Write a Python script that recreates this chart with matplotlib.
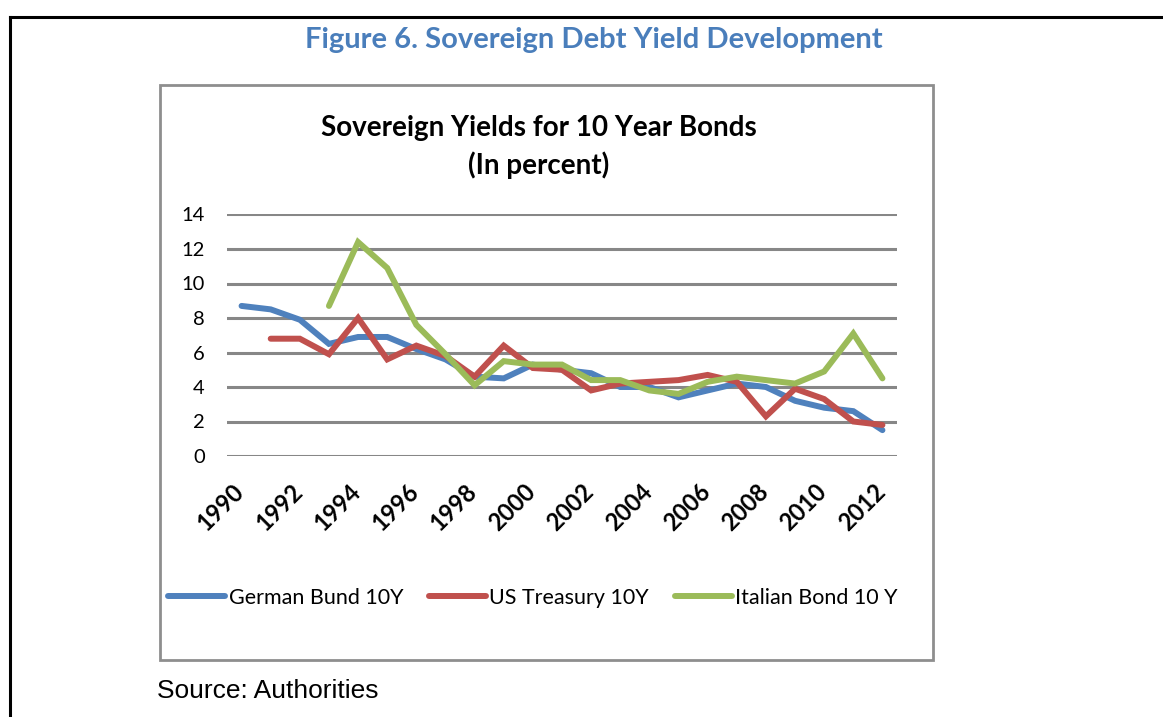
import numpy as np
import matplotlib
matplotlib.use("Agg")
import matplotlib.pyplot as plt
import matplotlib.transforms as mtransforms
from matplotlib.patches import Rectangle
from matplotlib.lines import Line2D

# ── Data ──────────────────────────────────────────────────────────────────────
years = list(range(1990, 2013))
german = [8.7, 8.5, 7.9, 6.5, 6.9, 6.9, 6.2, 5.6, 4.6, 4.5, 5.3,
          5.0, 4.8, 4.0, 4.0, 3.4, 3.8, 4.2, 4.0, 3.2, 2.8, 2.6, 1.5]
us = [np.nan, 6.8, 6.8, 5.9, 8.0, 5.6, 6.4, 5.8, 4.6, 6.4, 5.1,
      5.0, 3.8, 4.2, 4.3, 4.4, 4.7, 4.3, 2.3, 3.9, 3.3, 2.0, 1.8]
italy = [np.nan, np.nan, np.nan, 8.7, 12.4, 10.9, 7.6, 5.9, 4.1, 5.5, 5.3,
         5.3, 4.4, 4.4, 3.8, 3.6, 4.3, 4.6, 4.4, 4.2, 4.9, 7.1, 4.5]
series = [
    ("German Bund 10Y", german, "#4F81BD"),
    ("US Treasury 10Y", us, "#C0504D"),
    ("Italian Bond 10 Y", italy, "#9BBB59"),
]
y_ticks = [0, 2, 4, 6, 8, 10, 12, 14]

W, H = 1163, 717
FONT = "Lato"

fig = plt.figure(figsize=(W / 100, H / 100), dpi=100)
fig.patch.set_facecolor("white")


def fx(px):
    return px / W


def fy(py):
    return 1 - py / H


# ── Outer black frame (open to the right/bottom like a page crop) ─────────────
fig.add_artist(Line2D([fx(10), 1.0], [fy(17), fy(17)], color="black", lw=2.2,
                      transform=fig.transFigure))
fig.add_artist(Line2D([fx(10), fx(10)], [fy(17), 0.0], color="black", lw=2.2,
                      transform=fig.transFigure))

# ── Grey chart box ────────────────────────────────────────────────────────────
fig.add_artist(Rectangle((fx(160), fy(660)), fx(933) - fx(160), fy(85) - fy(660),
                         transform=fig.transFigure, fill=False,
                         edgecolor="#8E8E8E", lw=2.0))

fig.text(fx(594), fy(40), "Figure 6. Sovereign Debt Yield Development",
         ha="center", va="center", fontsize=21, fontweight="bold",
         color="#4A7EBB", family=FONT)
fig.text(fx(539), fy(147), "Sovereign Yields for 10 Year Bonds\n(In percent)",
         ha="center", va="center", fontsize=20, fontweight="bold",
         color="black", family=FONT, linespacing=1.42)
fig.text(fx(157), fy(691), "Source: Authorities", ha="left", va="center",
         fontsize=19, color="black", family="Liberation Sans")

# ── Plot area ─────────────────────────────────────────────────────────────────
ax = fig.add_axes([fx(227), fy(456), fx(897) - fx(227), fy(214.5) - fy(456)])
x = np.arange(len(years))
for label, vals, col in series:
    ax.plot(x, vals, color=col, lw=4.3, label=label, solid_capstyle="round",
            solid_joinstyle="miter")

ax.set_xlim(-0.5, len(years) - 0.5)
ax.set_ylim(0, 14)
ax.set_yticks(y_ticks)
ax.set_yticklabels([str(v) for v in y_ticks], fontsize=14.5, family=FONT)
ax.set_xticks(x[::2])
ax.set_xticklabels([str(y) for y in years[::2]], rotation=45, ha="right",
                   fontsize=17, fontweight="bold", family=FONT)
ax.tick_params(length=0)
ax.tick_params(axis="y", pad=16)
ax.tick_params(axis="x", pad=17)
shift = mtransforms.ScaledTranslation(7 / 100, 0, fig.dpi_scale_trans)
for lbl in ax.get_xticklabels():
    lbl.set_transform(lbl.get_transform() + shift)
for s in ax.spines.values():
    s.set_visible(False)
ax.yaxis.grid(True, color="#878787", lw=2.2)
ax.set_axisbelow(True)

leg = ax.legend(loc="center", bbox_to_anchor=(fx(533), fy(598)),
                bbox_transform=fig.transFigure, ncol=3, frameon=False,
                prop={"family": FONT, "size": 15.5}, handlelength=2.65,
                handletextpad=0.15, columnspacing=1.2)

fig.savefig("out.png", dpi=100, facecolor="white")
